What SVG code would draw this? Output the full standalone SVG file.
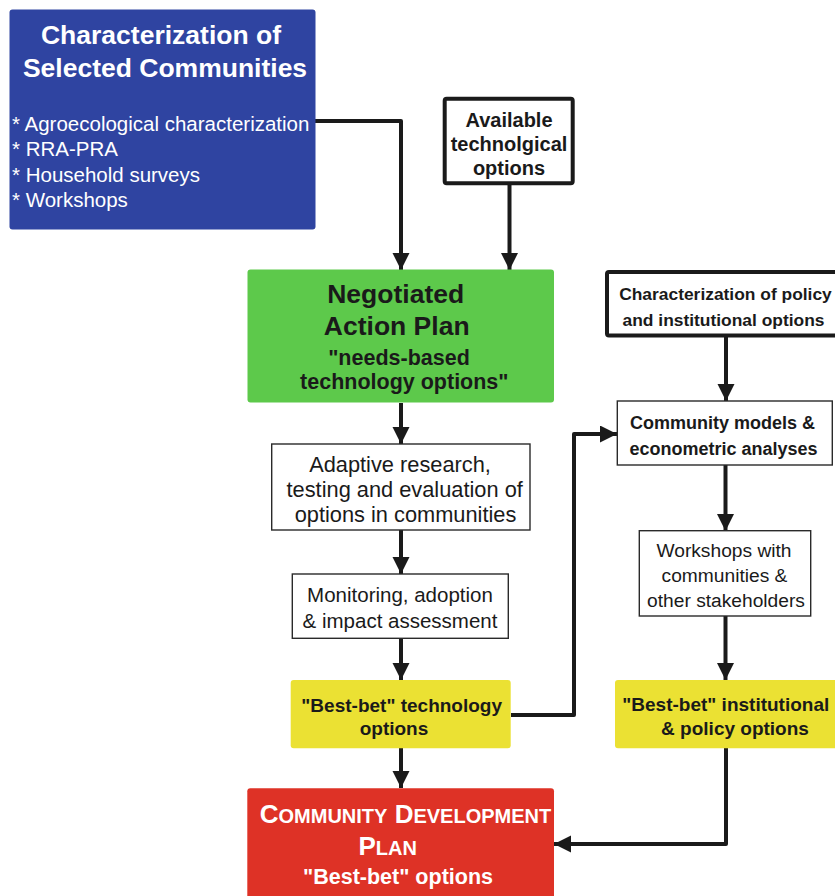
<svg xmlns="http://www.w3.org/2000/svg" width="835" height="896" viewBox="0 0 835 896">
<style>
text{font-family:"Liberation Sans",Arial,Helvetica,sans-serif;fill:#1a1a1a;text-anchor:middle}
.b{font-weight:bold}
.w{fill:#ffffff}
.thin{fill:#ffffff;stroke:#2a2a2a;stroke-width:1.4}
.thick{fill:#ffffff;stroke:#1a1a1a;stroke-width:4}
.con{fill:none;stroke:#1a1a1a;stroke-width:4;stroke-linejoin:round}
</style>
<defs>
<marker id="ah" markerUnits="userSpaceOnUse" markerWidth="18" markerHeight="18" viewBox="0 0 18 18" refX="17" refY="8.5" orient="auto">
<path d="M0,0 L17,8.5 L0,17 z" fill="#1a1a1a"/>
</marker>
</defs>
<g id="connectors">
<path class="con" d="M315,121 H401 V270" marker-end="url(#ah)"/>
<path class="con" d="M509.5,185 V270" marker-end="url(#ah)"/>
<path class="con" d="M401,403 V444" marker-end="url(#ah)"/>
<path class="con" d="M401,530 V574" marker-end="url(#ah)"/>
<path class="con" d="M401,638 V680" marker-end="url(#ah)"/>
<path class="con" d="M401,748 V788" marker-end="url(#ah)"/>
<path class="con" d="M511,715 H574 V434 H617" marker-end="url(#ah)"/>
<path class="con" d="M726,337 V401" marker-end="url(#ah)"/>
<path class="con" d="M725.5,465 V531" marker-end="url(#ah)"/>
<path class="con" d="M725.5,616 V680" marker-end="url(#ah)"/>
<path class="con" d="M726,748 V844 H554" marker-end="url(#ah)"/>
</g>
<g id="n_communities">
<rect x="9.5" y="9.5" width="306" height="220" rx="3" fill="#2F44A1"/>
<text class="b w" x="161" y="44" font-size="26.5">Characterization of</text>
<text class="b w" x="165" y="76.5" font-size="26.5">Selected Communities</text>
<text class="w" x="12" y="130.5" font-size="20.5" style="text-anchor:start">* Agroecological characterization</text>
<text class="w" x="12" y="156" font-size="20.5" style="text-anchor:start">* RRA-PRA</text>
<text class="w" x="12" y="181.5" font-size="20.5" style="text-anchor:start">* Household surveys</text>
<text class="w" x="12" y="207" font-size="20.5" style="text-anchor:start">* Workshops</text>
</g>
<g id="n_available">
<rect class="thick" x="444.7" y="98.7" width="128" height="84.6" rx="2"/>
<text class="b" x="509" y="126.5" font-size="20">Available</text>
<text class="b" x="509" y="150.5" font-size="20">technolgical</text>
<text class="b" x="509" y="174.5" font-size="20">options</text>
</g>
<g id="n_negotiated">
<rect x="247.5" y="269.5" width="306.5" height="133" rx="3" fill="#5DC94B"/>
<text class="b" x="395.7" y="302.7" font-size="26.5">Negotiated</text>
<text class="b" x="396.7" y="335" font-size="26.5">Action Plan</text>
<text class="b" x="399" y="364.5" font-size="21.5">"needs-based</text>
<text class="b" x="404.3" y="389" font-size="21.5">technology options"</text>
</g>
<g id="n_policy">
<rect class="thick" x="607" y="272" width="232" height="63.5" rx="2"/>
<text class="b" x="725.5" y="300" font-size="17.4">Characterization of policy</text>
<text class="b" x="723.5" y="326" font-size="17.4">and institutional options</text>
</g>
<g id="n_models">
<rect class="thin" x="617.3" y="401" width="215" height="64"/>
<text class="b" x="722.5" y="429" font-size="18">Community models &amp;</text>
<text class="b" x="723.5" y="455" font-size="18">econometric analyses</text>
</g>
<g id="n_adaptive">
<rect class="thin" x="271.7" y="444" width="258.3" height="86"/>
<text x="400" y="471.5" font-size="21.8">Adaptive research,</text>
<text x="404.7" y="497" font-size="21.8">testing and evaluation of</text>
<text x="405.5" y="522" font-size="21.8">options in communities</text>
</g>
<g id="n_workshops">
<rect class="thin" x="639.3" y="530.7" width="171.4" height="85.3"/>
<text x="724" y="557" font-size="19.2">Workshops with</text>
<text x="724.5" y="582" font-size="19.2">communities &amp;</text>
<text x="726" y="607" font-size="19.2">other stakeholders</text>
</g>
<g id="n_monitoring">
<rect class="thin" x="292.3" y="574" width="216" height="64.3"/>
<text x="400" y="602" font-size="20.5">Monitoring, adoption</text>
<text x="400" y="627.5" font-size="20.5">&amp; impact assessment</text>
</g>
<g id="n_besttech">
<rect x="290.7" y="680" width="220" height="68.3" rx="3" fill="#EBE133"/>
<text class="b" x="401.7" y="711.7" font-size="19">"Best-bet" technology</text>
<text class="b" x="394" y="735" font-size="19">options</text>
</g>
<g id="n_bestinst">
<rect x="615" y="680" width="223" height="68.3" rx="3" fill="#EBE133"/>
<text class="b" x="725.8" y="710.5" font-size="19">"Best-bet" institutional</text>
<text class="b" x="735" y="735" font-size="19">&amp; policy options</text>
</g>
<g id="n_cdp">
<rect x="247.3" y="788.3" width="306.7" height="112" rx="3" fill="#DE3226"/>
<text class="b w" x="405.5" y="822.7" font-size="26">C<tspan font-size="20">OMMUNITY</tspan> D<tspan font-size="20">EVELOPMENT</tspan></text>
<text class="b w" x="387.7" y="855" font-size="26">P<tspan font-size="20">LAN</tspan></text>
<text class="b w" x="398" y="883.5" font-size="21.5">"Best-bet" options</text>
</g>
</svg>
